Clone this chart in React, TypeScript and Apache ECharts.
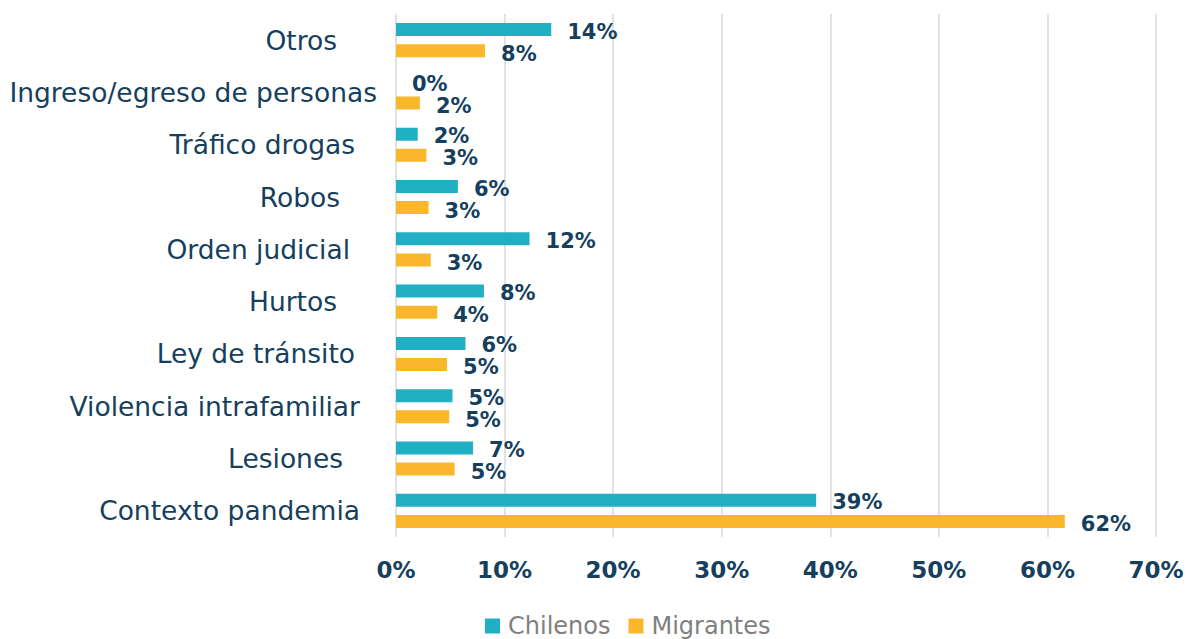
import React, { useEffect, useRef } from "react";
import * as echarts from "echarts";

const categories = [
  "Contexto pandemia",
  "Lesiones",
  "Violencia intrafamiliar",
  "Ley de tránsito",
  "Hurtos",
  "Orden judicial",
  "Robos",
  "Tráfico drogas",
  "Ingreso/egreso de personas",
  "Otros",
];
const chilenos = [38.7, 7.1, 5.2, 6.4, 8.1, 12.3, 5.7, 2.0, 0, 14.3];
const migrantes = [61.6, 5.4, 4.9, 4.7, 3.8, 3.2, 3.0, 2.8, 2.2, 8.2];
const xTicks = [0, 10, 20, 30, 40, 50, 60, 70];
// right padding of each category label (the original labels end at different places)
const labelPad = [17, 34, 17, 22, 40, 27, 37, 22, 0, 40];

const NAVY = "#163F5E";
const FONT = "'DejaVu Sans', sans-serif";

export default function App() {
  const ref = useRef<HTMLDivElement>(null);
  useEffect(() => {
    document.body.style.margin = "0";
    const chart = echarts.init(ref.current!, null, { renderer: "svg" });
    const rich: Record<string, any> = {};
    labelPad.forEach((p, i) => {
      rich["r" + i] = {
        fontFamily: FONT,
        fontSize: 26.5,
        color: NAVY,
        padding: [0, p, 0, 0],
      };
    });
    const labelCfg = {
      show: true,
      position: "right" as const,
      distance: 16,
      fontFamily: FONT,
      fontSize: 21,
      fontWeight: "bold" as const,
      color: NAVY,
      formatter: (p: any) => Math.round(p.value) + "%",
    };
    chart.setOption({
      animation: false,
      grid: { left: 396, right: 37, top: 14, bottom: 102, containLabel: false },
      legend: {
        data: ["Chilenos", "Migrantes"],
        left: 480,
        top: 609,
        itemWidth: 15,
        itemHeight: 15,
        itemGap: 18,
        icon: "rect",
        textStyle: { fontFamily: FONT, fontSize: 24, color: "#808080", padding: [0, 0, 0, 3] },
      },
      xAxis: {
        type: "value",
        min: xTicks[0],
        max: xTicks[xTicks.length - 1],
        interval: 10,
        axisLine: { show: false },
        axisTick: { show: false },
        splitLine: { lineStyle: { color: "#D9D9D9", width: 1.5 } },
        axisLabel: {
          margin: 21,
          fontFamily: FONT,
          fontSize: 23,
          fontWeight: "bold",
          color: NAVY,
          formatter: (v: number) => v + "%",
        },
      },
      yAxis: {
        type: "category",
        data: categories,
        axisLine: { show: false },
        axisTick: { show: false },
        axisLabel: {
          margin: 19,
          formatter: (v: string, i: number) => `{r${i}|${v}}`,
          rich,
        },
      },
      series: [
        {
          name: "Chilenos",
          type: "bar",
          data: chilenos,
          barWidth: 13,
          barGap: "62%",
          itemStyle: { color: "#21B0C3" },
          label: { ...labelCfg, offset: [0, 2] },
        },
        {
          name: "Migrantes",
          type: "bar",
          data: migrantes,
          barWidth: 13,
          itemStyle: { color: "#FBB72B" },
          label: { ...labelCfg, offset: [0, 3] },
        },
      ],
    });
    return () => chart.dispose();
  }, []);
  return <div ref={ref} style={{ width: 1193, height: 639 }} />;
}
